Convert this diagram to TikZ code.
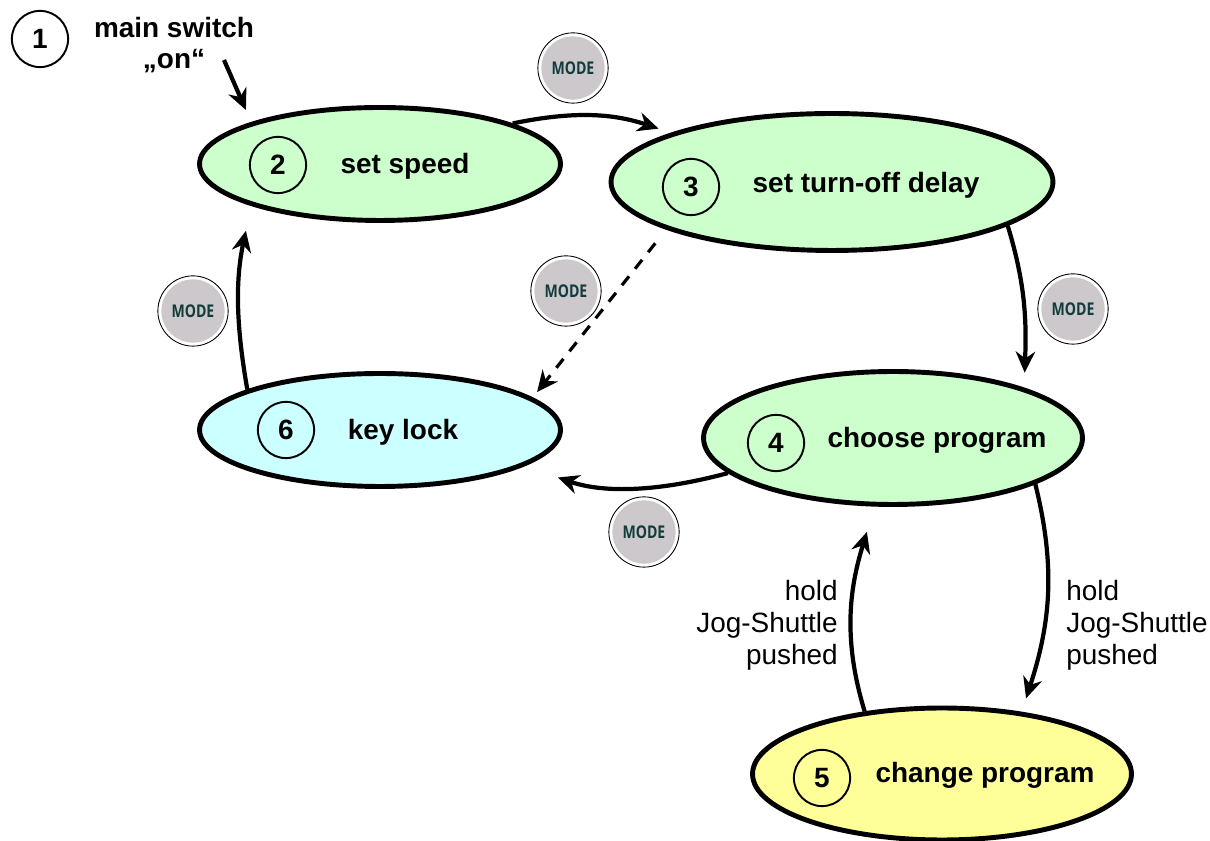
\documentclass[tikz,border=0pt]{standalone}
\usepackage{fontspec}
\setmainfont{Liberation Sans}
\newfontfamily\modefont[FakeStretch=0.8]{Open Sans}
\usetikzlibrary{arrows.meta,shapes.geometric}
\definecolor{stategreen}{HTML}{CCFFCC}
\definecolor{statecyan}{HTML}{CCFFFF}
\definecolor{stateyellow}{HTML}{FFFF99}
\definecolor{modegrey}{HTML}{CCC8CC}
\definecolor{modeteal}{HTML}{123C3C}
\tikzset{
  statebox/.style={ellipse,draw,line width=2.8pt,inner sep=0pt},
  numbox/.style={circle,draw,line width=1.1pt,minimum size=32pt,inner sep=0pt,font=\fontsize{15.9}{18}\selectfont\bfseries},
  namebox/.style={inner sep=0pt,align=center,font=\fontsize{15.9}{18.1}\selectfont\bfseries},
  holdbox/.style={inner sep=0pt,font=\fontsize{15.9}{18.1}\selectfont},
  modekey/.style={circle,draw,line width=0.5pt,fill=white,minimum size=40pt,inner sep=0pt,text=modeteal,
    path picture={\fill[modegrey] (path picture bounding box.center) circle (18pt);},
    font=\modefont\fontsize{10}{12}\selectfont\bfseries},
  flow/.style={-{Stealth[length=12pt,width=11pt]},line width=2.4pt}
}
\begin{document}
\begin{tikzpicture}[x=0.02cm,y=0.02cm]
\useasboundingbox (0,0) rectangle (1210,841);

\node[statebox,fill=stategreen,minimum width=7.22cm,minimum height=2.26cm] (speed) at (380,677) {};
\node[statebox,fill=stategreen,minimum width=8.84cm,minimum height=2.74cm] (delay) at (832,659) {};
\node[statebox,fill=stategreen,minimum width=7.58cm,minimum height=2.66cm] (choose) at (893,403) {};
\node[statebox,fill=stateyellow,minimum width=7.58cm,minimum height=2.64cm] (change) at (942,67) {};
\node[statebox,fill=statecyan,minimum width=7.22cm,minimum height=2.26cm] (lock) at (380,411) {};

\foreach \a/\x/\y in {1/40/802,2/278/676,3/691/654,4/776/398,5/822/63,6/286/411} {\node[numbox] (num\a) at (\x,\y) {\a};}
\foreach \a/\x/\y in {a/573/773,b/566/550,c/193/530,d/1073/532,e/644/309} {\node[modekey] (mode\a) at (\x,\y) {MODE};}

\node[namebox] (mainlabel) at (174,796) {main switch\\„on“};
\node[namebox] (speedlabel) at (405,675) {set speed};
\node[namebox] (delaylabel) at (866,656) {set turn-off delay};
\node[namebox] (chooselabel) at (937,401) {choose program};
\node[namebox] (changelabel) at (985,66) {change program};
\node[namebox] (locklabel) at (403,409) {key lock};
\node[holdbox,align=right,anchor=east] (holdleft) at (838,216) {hold\\Jog-Shuttle\\pushed};
\node[holdbox,align=left,anchor=west] (holdright) at (1066,216) {hold\\Jog-Shuttle\\pushed};

\coordinate (switchend) at (224,781);
\draw[flow,shorten >=7.5pt] (switchend) -- (speed.162);
\draw[flow,shorten >=7.5pt] (speed.17) to[bend left=15] (delay.163);
\draw[flow,shorten >=8.5pt] (delay.-14) to[out=-73,in=88] (choose.21.5);
\draw[flow,shorten >=20pt] (choose.192) to[out=195,in=-19] (lock.-14);
\draw[flow,shorten >=8pt] (choose.-18.2) to[out=-76,in=72] (change.38.6);
\draw[flow,shorten >=15pt] (change.141) to[out=107,in=253] (choose.-105);
\draw[flow,shorten >=14.5pt] (lock.163.5) to[out=100,in=258] (speed.198);
\draw[-{Stealth[length=12pt,width=11pt]},line width=1.8pt,dash pattern=on 6.5pt off 5.5pt,shorten <=10pt,shorten >=4pt] (delay.196.6) -- (lock.12);

\end{tikzpicture}
\end{document}
